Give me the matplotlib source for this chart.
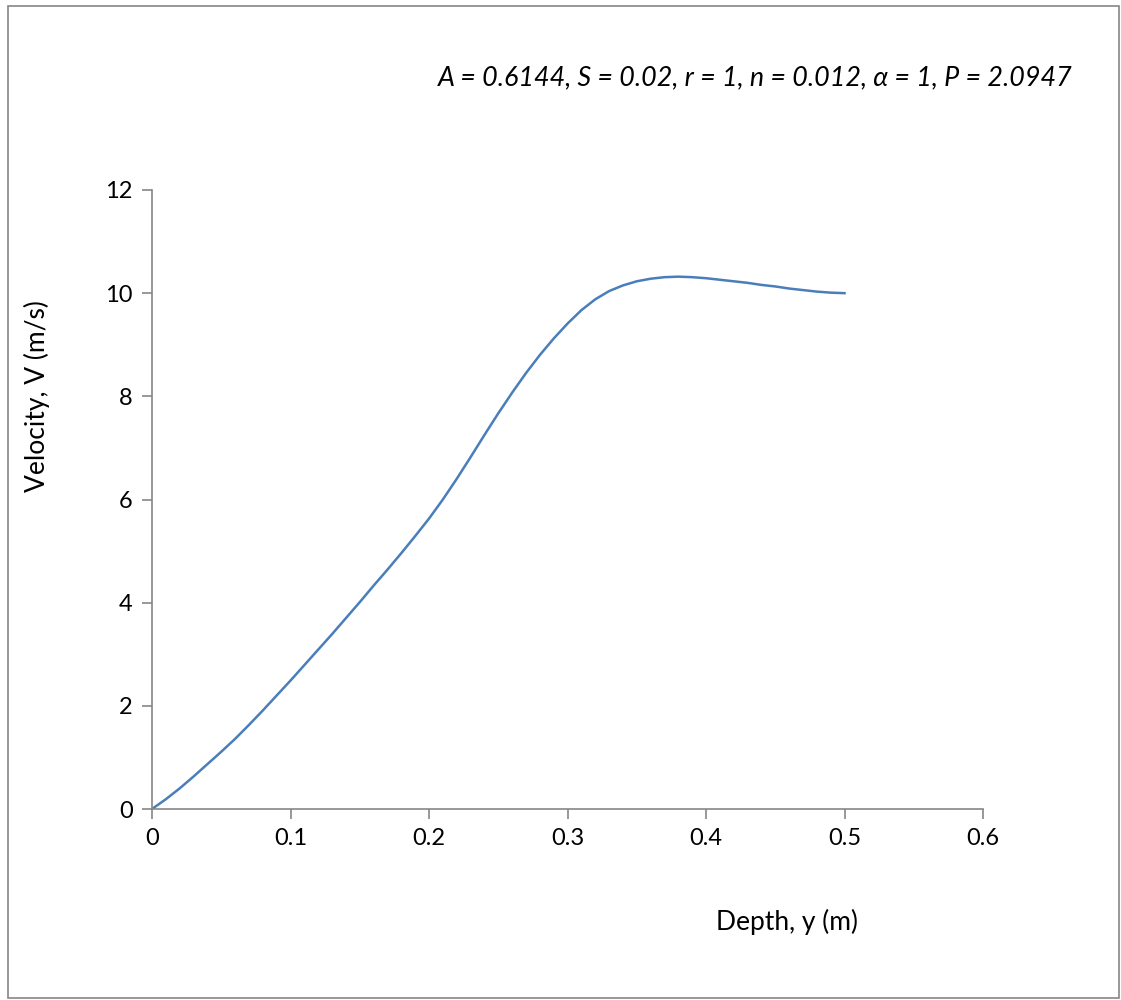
import matplotlib
matplotlib.use('Agg')
import matplotlib.pyplot as plt
from matplotlib.patches import Rectangle

# data
depth = [0.00, 0.01, 0.02, 0.03, 0.04, 0.05, 0.06, 0.07, 0.08, 0.09,
         0.10, 0.11, 0.12, 0.13, 0.14, 0.15, 0.16, 0.17, 0.18, 0.19,
         0.20, 0.21, 0.22, 0.23, 0.24, 0.25, 0.26, 0.27, 0.28, 0.29,
         0.30, 0.31, 0.32, 0.33, 0.34, 0.35, 0.36, 0.37, 0.38, 0.39,
         0.40, 0.41, 0.42, 0.43, 0.44, 0.45, 0.46, 0.47, 0.48, 0.49, 0.50]
velocity = [0.00, 0.19, 0.40, 0.63, 0.87, 1.11, 1.36, 1.63, 1.91, 2.20,
            2.49, 2.79, 3.09, 3.39, 3.70, 4.01, 4.33, 4.64, 4.96, 5.29,
            5.63, 6.00, 6.40, 6.82, 7.25, 7.67, 8.07, 8.45, 8.80, 9.12,
            9.41, 9.67, 9.88, 10.04, 10.15, 10.23, 10.28, 10.31, 10.32, 10.31,
            10.29, 10.26, 10.23, 10.20, 10.16, 10.13, 10.09, 10.06, 10.03, 10.01, 10.00]
xticks = [0, 0.1, 0.2, 0.3, 0.4, 0.5, 0.6]
xticklabels = ['0', '0.1', '0.2', '0.3', '0.4', '0.5', '0.6']
yticks = [0, 2, 4, 6, 8, 10, 12]
params = 'A = 0.6144, S = 0.02, r = 1, n = 0.012, α = 1, P = 2.0947'

plt.rcParams['font.family'] = ['Lato', 'DejaVu Sans']
grey = '#868686'

fig = plt.figure(figsize=(11.21, 10), dpi=100)
fig.patches.append(Rectangle((0.007, 0.002), 0.991, 0.992, transform=fig.transFigure,
                             fill=False, edgecolor=grey, linewidth=1.2))
ax = fig.add_axes([0.1356, 0.191, 0.7413, 0.619])
ax.plot(depth, velocity, color='#4a7ebb', linewidth=1.8)
ax.set_xlim(0, 0.6)
ax.set_ylim(0, 12)
ax.set_xticks(xticks)
ax.set_xticklabels(xticklabels)
ax.set_yticks(yticks)
for s in ['top', 'right']:
    ax.spines[s].set_visible(False)
for s in ['left', 'bottom']:
    ax.spines[s].set_color(grey)
    ax.spines[s].set_linewidth(1.2)
ax.tick_params(direction='out', length=7, width=1.2, color=grey,
               labelsize=17, pad=7)

fig.text(0.702, 0.078, 'Depth, y (m)', ha='center', va='center', fontsize=19)
fig.text(0.033, 0.604, 'Velocity, V (m/s)', ha='center', va='center',
         rotation=90, fontsize=19)
fig.text(0.674, 0.922, params, ha='center', va='center', fontsize=19.4, style='italic')

plt.savefig('out.png', dpi=100)
plt.close()
